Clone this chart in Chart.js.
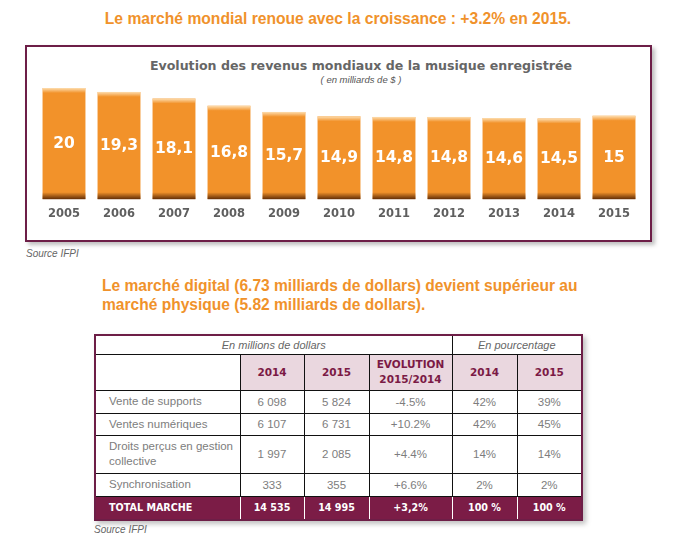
<!DOCTYPE html>
<html>
<head>
<meta charset="utf-8">
<script src="https://cdn.jsdelivr.net/npm/chart.js@4.4.1/dist/chart.umd.min.js"></script>
<style>
  body { margin: 0; background: #fff; width: 674px; height: 551px; position: relative; overflow: hidden; font-family: "Liberation Sans", Arial, sans-serif; }
  .heading { position: absolute; color: #f0922b; font-family: "Liberation Sans", Arial, sans-serif; font-weight: bold; font-size: 17px; white-space: nowrap; }
  #h1 { left: 0; width: 676px; top: 9px; text-align: center; transform: scaleX(0.92); transform-origin: 338px 0; }
  #h2 { left: 102px; top: 276px; line-height: 19px; transform: scaleX(0.915); transform-origin: 0 0; }
  .source { position: absolute; font-style: italic; font-size: 10px; color: #666; }
  #frame { position: absolute; left: 25px; top: 45px; width: 623px; height: 193px; border: 2px solid #6d1e47; box-shadow: 3px 3px 4px rgba(0,0,0,0.25); }
  #frame canvas { position: absolute; left: 0; top: 1px; }
  #ctitle { position: absolute; left: 0; width: 668px; top: 11px; text-align: center; font-family: "DejaVu Sans", sans-serif; font-weight: bold; font-size: 12.6px; color: #666; }
  #csub { position: absolute; left: 286px; width: 96px; top: 27px; text-align: center; font-style: italic; font-size: 9.5px; color: #555; }
  #tbl { position: absolute; left: 94px; top: 334px; border-collapse: collapse; box-shadow: 3px 3px 5px rgba(0,0,0,0.25); border: 2px solid #6d1e47; }
  #tbl td { border: 1px solid #111; padding: 0; text-align: center; color: #7d7d7d; font-size: 11.5px; }
  #tbl td.lab { text-align: left; padding-left: 13px; padding-right: 4px; line-height: 15px; }
  #tbl tr.top td { color: #666; font-style: italic; font-size: 11px; border-bottom: 1px solid #111; }
  #tbl tr.head td { background: #ead7df; color: #7b1a45; font-family: "DejaVu Sans", sans-serif; font-weight: bold; font-size: 10.5px; line-height: 15px; }
  #tbl tr.head td.blank { background: #fff; }
  #tbl tr.total td { background: #7b1c46; color: #fff; font-family: "DejaVu Sans", sans-serif; font-weight: bold; font-size: 9.6px; border: 1px solid #fff; border-top: none; border-bottom: none; }
  #tbl tr.total td:first-child { border-left: none; }
  #tbl tr.total td:last-child { border-right: none; }
</style>
</head>
<body>
<div id="h1" class="heading">Le marché mondial renoue avec la croissance : +3.2% en 2015.</div>

<div id="frame">
  <div id="ctitle">Evolution des revenus mondiaux de la musique enregistrée</div>
  <div id="csub">( en milliards de $ )</div>
  <canvas id="revChart" width="623" height="192"></canvas>
</div>
<div class="source" style="left:26px; top:248px;">Source IFPI</div>

<div id="h2" class="heading">Le marché digital (6.73 milliards de dollars) devient supérieur au<br>marché physique (5.82 milliards de dollars).</div>

<table id="tbl"></table>
<div class="source" style="left:94px; top:524px;">Source IFPI</div>

<script>
// Bar chart data
const years = ['2005','2006','2007','2008','2009','2010','2011','2012','2013','2014','2015'];
const revenues = [20, 19.3, 18.1, 16.8, 15.7, 14.9, 14.8, 14.8, 14.6, 14.5, 15];

// Table data
const rowLabels = ['Vente de supports', 'Ventes numériques', 'Droits perçus en gestion collective', 'Synchronisation'];
const val2014 = ['6 098', '6 107', '1 997', '333'];
const val2015 = ['5 824', '6 731', '2 085', '355'];
const evolution = ['-4.5%', '+10.2%', '+4.4%', '+6.6%'];
const pct2014 = ['42%', '42%', '14%', '2%'];
const pct2015 = ['39%', '45%', '14%', '2%'];
const totalRow = ['TOTAL MARCHE', '14 535', '14 995', '+3,2%', '100 %', '100 %'];

// Build table
const tbl = document.getElementById('tbl');
const colW = [145, 64, 65, 83, 65, 65];
const rowH = [37, 23, 22, 38, 23];
let html = '<colgroup>' + colW.map(w => `<col style="width:${w}px">`).join('') + '</colgroup>';
html += '<tr class="top" style="height:19px"><td colspan="4">En millions de dollars</td><td colspan="2">En pourcentage</td></tr>';
html += '<tr class="head" style="height:36px"><td class="blank"></td><td>2014</td><td>2015</td><td>EVOLUTION<br>2015/2014</td><td>2014</td><td>2015</td></tr>';
rowLabels.forEach((l, i) => {
  html += `<tr style="height:${rowH[i+1]}px"><td class="lab">${l}</td><td>${val2014[i]}</td><td>${val2015[i]}</td><td>${evolution[i]}</td><td>${pct2014[i]}</td><td>${pct2015[i]}</td></tr>`;
});
html += '<tr class="total" style="height:24px">' + totalRow.map((t, i) => `<td${i === 0 ? ' class="lab"' : ''}>${t}</td>`).join('') + '</tr>';
tbl.innerHTML = html;

// bar face gradient
function barFill(ctx) {
  const chart = ctx.chart;
  if (!chart.chartArea || ctx.dataIndex === undefined) return '#f2922a';
  const el = chart.getDatasetMeta(0).data[ctx.dataIndex];
  if (!el || !el.width) return '#f2922a';
  const x0 = el.x - el.width / 2, x1 = el.x + el.width / 2;
  const g = chart.ctx.createLinearGradient(x0, 0, x1, 0);
  g.addColorStop(0, '#f7a850');
  g.addColorStop(0.07, '#f39429');
  g.addColorStop(0.78, '#ef8b1f');
  g.addColorStop(0.9, '#b05c0e');
  g.addColorStop(1, '#5a2c05');
  return g;
}

// top highlight, bottom shade and value labels
const barDecor = {
  id: 'barDecor',
  afterDatasetsDraw(chart) {
    const c = chart.ctx;
    chart.getDatasetMeta(0).data.forEach((bar, i) => {
      const x0 = bar.x - bar.width / 2;
      c.save();
      let g = c.createLinearGradient(0, bar.y, 0, bar.y + 5);
      g.addColorStop(0, 'rgba(255,230,190,0.9)');
      g.addColorStop(1, 'rgba(255,230,190,0)');
      c.fillStyle = g;
      c.fillRect(x0, bar.y, bar.width, 5);
      g = c.createLinearGradient(0, bar.base - 7, 0, bar.base);
      g.addColorStop(0, 'rgba(90,40,5,0)');
      g.addColorStop(1, 'rgba(90,40,5,0.95)');
      c.fillStyle = g;
      c.fillRect(x0, bar.base - 7, bar.width, 7);
      c.fillStyle = '#fff';
      c.font = 'bold 15.5px "DejaVu Sans"';
      c.textAlign = 'center';
      c.textBaseline = 'middle';
      c.fillText(String(revenues[i]).replace('.', ','), bar.x, (bar.y + bar.base) / 2);
      c.restore();
    });
  }
};

const revChart = new Chart(document.getElementById('revChart'), {
  type: 'bar',
  data: {
    labels: years,
    datasets: [{
      data: revenues,
      backgroundColor: barFill,
      borderWidth: 0,
      barPercentage: 0.78,
      categoryPercentage: 1
    }]
  },
  options: {
    responsive: false,
    animation: false,
    layout: { padding: { left: 9.5, right: 8.5, top: 40, bottom: 11 } },
    plugins: { legend: { display: false }, tooltip: { enabled: false } },
    scales: {
      y: { display: false, min: 0, max: 20 },
      x: {
        grid: { display: false, drawTicks: false },
        border: { display: false },
        ticks: { color: '#5f5f5f', padding: 8, font: { family: 'DejaVu Sans', weight: 'bold', size: 11.5 } }
      }
    }
  },
  plugins: [barDecor]
});
</script>
</body>
</html>
